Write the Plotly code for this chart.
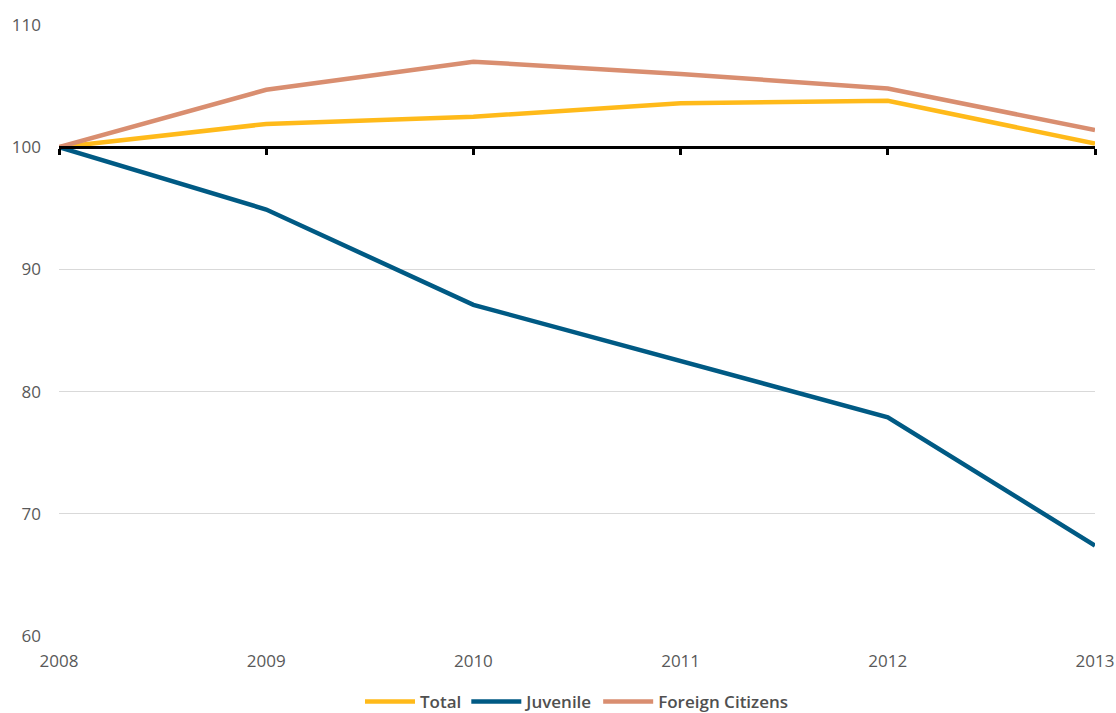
import plotly.graph_objects as go

years = [2008, 2009, 2010, 2011, 2012, 2013]
total = [100.0, 101.9, 102.5, 103.6, 103.8, 100.3]
juvenile = [100.0, 94.9, 87.1, 82.5, 77.9, 67.4]
foreign = [100.0, 104.7, 107.0, 106.0, 104.8, 101.4]

fig = go.Figure()
fig.add_trace(go.Scatter(x=years, y=total, name="Total", mode="lines",
                         line=dict(color="#FFBA1A", width=4.5)))
fig.add_trace(go.Scatter(x=years, y=juvenile, name="Juvenile", mode="lines",
                         line=dict(color="#005A84", width=4.5)))
fig.add_trace(go.Scatter(x=years, y=foreign, name="Foreign Citizens", mode="lines",
                         line=dict(color="#D98E70", width=4.5)))
# invisible trace on the second x axis so the baseline axis at 100 renders
fig.add_trace(go.Scatter(x=years, y=[100] * len(years), xaxis="x2", mode="lines",
                         line=dict(width=0, color="rgba(0,0,0,0)"), showlegend=False,
                         hoverinfo="skip"))

font_family = "Open Sans, Liberation Sans, sans-serif"
fig.update_layout(
    width=1116, height=713,
    margin=dict(l=59, r=21, t=25, b=77, autoexpand=False),
    paper_bgcolor="white", plot_bgcolor="white",
    font=dict(family=font_family, size=17, color="#595959"),
    showlegend=True,
    legend=dict(orientation="h", x=0.5, xanchor="center", y=-0.108, yanchor="middle",
                font=dict(size=17, color="#505050", weight=600),
                itemwidth=50, traceorder="normal"),
    xaxis=dict(range=[2008, 2013], dtick=1, tick0=2008, showgrid=False,
               zeroline=False, showline=False, ticks="",
               tickfont=dict(size=17, color="#595959"), ticklabelstandoff=13,
               fixedrange=True),
    xaxis2=dict(overlaying="x", matches="x", anchor="free", position=0.8, side="bottom",
                range=[2008, 2013], dtick=1, tick0=2008,
                showline=True, linecolor="black", linewidth=2.5,
                ticks="outside", ticklen=6, tickwidth=2.5, tickcolor="black",
                showticklabels=False, showgrid=False, zeroline=False),
    yaxis=dict(range=[60, 110], dtick=10, showgrid=True, gridcolor="#D9D9D9",
               gridwidth=1, zeroline=False, showline=False, ticks="",
               tickfont=dict(size=17, color="#595959"), ticklabelstandoff=17,
               fixedrange=True),
)

fig.write_html(
    "out.html",
    config={"displayModeBar": False},
    post_script="document.body.style.margin='0';document.body.style.overflow='hidden';",
)
